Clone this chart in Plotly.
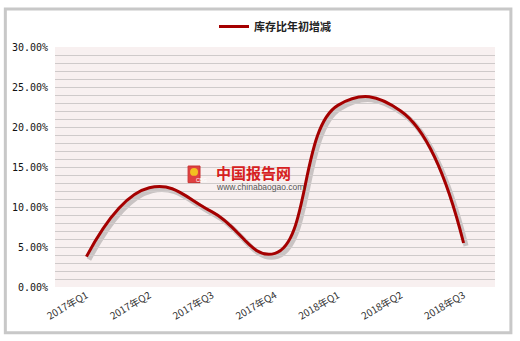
import plotly.graph_objects as go

categories = ["2017年Q1", "2017年Q2", "2017年Q3", "2017年Q4", "2018年Q1", "2018年Q2", "2018年Q3"]
values = [0.038, 0.124, 0.094, 0.042, 0.227, 0.220, 0.055]
series_name = "库存比年初增减"
y_ticks = [0, 0.05, 0.10, 0.15, 0.20, 0.25, 0.30]

W, H = 520, 341
L, R, T, B = 52, 25, 41, 54
PW = W - L - R
PH = H - T - B

def px_x(p):
    return (p - L) / PW

def px_y(p):
    return (H - B - p) / PH

SMOOTH = 1.3

fig = go.Figure()

# shadow of the line (same data on a slightly offset, hidden axis pair)
sx, sy = 2.5, 3.0
fig.add_trace(go.Scatter(
    x=categories, y=values, mode="lines",
    line=dict(color="rgba(80,80,80,0.28)", width=5, shape="spline", smoothing=SMOOTH),
    xaxis="x", yaxis="y", showlegend=False, hoverinfo="skip"))

# main line on the visible axis pair
fig.add_trace(go.Scatter(
    x=categories, y=values, mode="lines", name=series_name,
    xaxis="x2", yaxis="y2",
    line=dict(color="#A50000", width=3, shape="spline", smoothing=SMOOTH)))

fig.update_layout(
    width=W, height=H,
    margin=dict(l=L, r=R, t=T, b=B),
    paper_bgcolor="white",
    plot_bgcolor="rgba(0,0,0,0)",
    showlegend=True,
    legend=dict(orientation="h", x=0.5, xanchor="center", y=1 + 21 / PH, yanchor="middle",
                font=dict(family="Noto Sans CJK SC", size=11, color="#222", weight="bold"),
                bgcolor="rgba(0,0,0,0)", itemwidth=30),
    xaxis=dict(type="category", domain=[sx / PW, 1], range=[-0.5, 6.5 - 7 * sx / PW],
               visible=False, anchor="y"),
    yaxis=dict(domain=[0, 1 - sy / PH], range=[0.30 * sy / PH, 0.30],
               visible=False, anchor="x"),
    xaxis2=dict(type="category", domain=[0, 1], range=[-0.5, 6.5], anchor="y2",
                showgrid=False, zeroline=False, showline=False, ticks="", tickangle=-30,
                tickfont=dict(family="Noto Sans CJK SC", size=10, color="#333")),
    yaxis2=dict(domain=[0, 1], range=[0, 0.30], anchor="x2", tickvals=y_ticks, tickformat=".2%",
                showgrid=True, gridcolor="#CFCACA", gridwidth=1.4,
                minor=dict(dtick=0.01, showgrid=True, gridcolor="#CFCACA", gridwidth=1.4, ticks=""),
                zeroline=False, showline=False, ticks="", ticklabelstandoff=6,
                tickfont=dict(family="DejaVu Sans Mono", size=10, color="#111")),
)

# plot area background
fig.add_shape(type="rect", xref="paper", yref="paper", x0=0, x1=1, y0=0, y1=1,
              line=dict(width=0), fillcolor="#F8F0F0", layer="below")

# outer frame
fig.add_shape(type="rect", xref="paper", yref="paper",
              x0=px_x(2), x1=px_x(511), y0=px_y(2), y1=px_y(334),
              line=dict(color="#C8C8C8", width=3), fillcolor="rgba(0,0,0,0)", layer="below")

# watermark logo
fig.add_shape(type="rect", xref="paper", yref="paper",
              x0=px_x(186), x1=px_x(198), y0=px_y(180), y1=px_y(163),
              line=dict(color="#C83030", width=1), fillcolor="#E04040", layer="above")
fig.add_shape(type="circle", xref="paper", yref="paper",
              x0=px_x(188), x1=px_x(196), y0=px_y(173), y1=px_y(165),
              line=dict(width=0), fillcolor="#F2C020", layer="above")
fig.add_annotation(x=px_x(192), y=px_y(177), xref="paper", yref="paper", text="CBG",
                   showarrow=False, font=dict(family="Liberation Sans", size=5, color="white"))
fig.add_annotation(x=px_x(212), y=px_y(170), xref="paper", yref="paper", text="<b>中国报告网</b>",
                   showarrow=False, xanchor="left", yanchor="middle",
                   font=dict(family="Noto Sans CJK SC", size=15, color="#D62020"))
fig.add_annotation(x=px_x(212), y=px_y(184), xref="paper", yref="paper", text="www.chinabaogao.com",
                   showarrow=False, xanchor="left", yanchor="middle",
                   font=dict(family="Liberation Sans", size=8.5, color="#555"))

fig.write_html("out.html")
